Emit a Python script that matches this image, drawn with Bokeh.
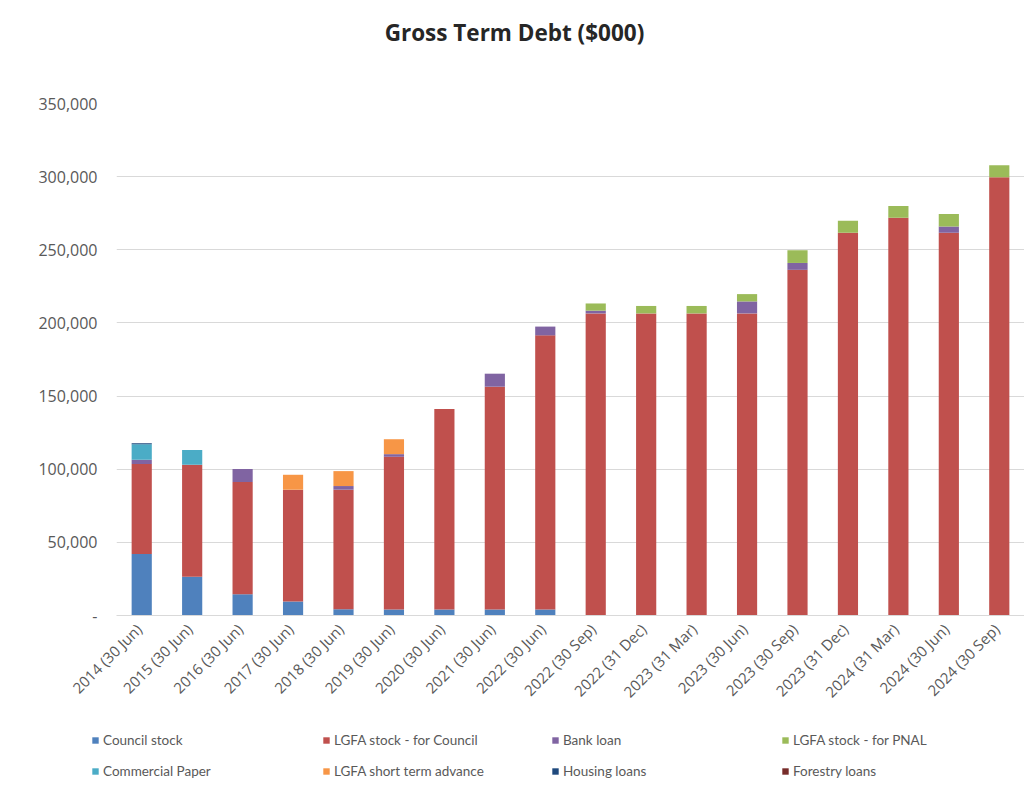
import math
from bokeh.plotting import figure
from bokeh.layouts import column, row
from bokeh.models import (FactorRange, Range1d, Legend, LegendItem, Label,
                          NumeralTickFormatter, FixedTicker, ColumnDataSource)
from bokeh.embed import file_html
from bokeh.resources import INLINE

categories = ["2014  (30 Jun)", "2015  (30 Jun)", "2016  (30 Jun)", "2017  (30 Jun)",
              "2018  (30 Jun)", "2019  (30 Jun)", "2020  (30 Jun)", "2021  (30 Jun)",
              "2022  (30 Jun)", "2022  (30 Sep)", "2022  (31 Dec)", "2023  (31 Mar)",
              "2023  (30 Jun)", "2023  (30 Sep)", "2023  (31 Dec)", "2024  (31 Mar)",
              "2024  (30 Jun)", "2024  (30 Sep)"]

council_stock = [42000, 26500, 14500, 9500, 4300, 4100, 4100, 4100, 4100,
                 0, 0, 0, 0, 0, 0, 0, 0, 0]
lgfa_council = [61500, 76500, 76700, 76500, 81700, 104400, 137100, 152300, 187400,
                206500, 206500, 206500, 206500, 236300, 261700, 271900, 261700, 299600]
bank_loan = [2900, 0, 8900, 0, 2500, 1800, 0, 8900, 6000,
             1900, 0, 0, 8200, 4700, 0, 0, 4300, 0]
lgfa_pnal = [0, 0, 0, 0, 0, 0, 0, 0, 0,
             4900, 5100, 5100, 5000, 8700, 8100, 8000, 8400, 8200]
commercial_paper = [10700, 10200, 0, 0, 0, 0, 0, 0, 0,
                    0, 0, 0, 0, 0, 0, 0, 0, 0]
lgfa_short_term = [0, 0, 0, 10200, 10200, 10200, 0, 0, 0,
                   0, 0, 0, 0, 0, 0, 0, 0, 0]
housing_loans = [700, 0, 0, 0, 0, 0, 0, 0, 0,
                 0, 0, 0, 0, 0, 0, 0, 0, 0]
forestry_loans = [0, 0, 0, 0, 0, 0, 0, 0, 0,
                  0, 0, 0, 0, 0, 0, 0, 0, 0]

series_names = ["Council stock", "LGFA stock - for Council", "Bank loan", "LGFA stock - for PNAL",
                "Commercial Paper", "LGFA short term advance", "Housing loans", "Forestry loans"]
series_keys = ["council", "lgfa_council", "bank", "pnal", "cp", "st_adv", "housing", "forestry"]
colors = ["#4F81BD", "#C0504D", "#8064A2", "#9BBB59", "#4BACC6", "#F79646", "#1F497D", "#772C2A"]
y_ticks = [0, 50000, 100000, 150000, 200000, 250000, 300000, 350000]

source = ColumnDataSource(dict(
    x=categories, council=council_stock, lgfa_council=lgfa_council, bank=bank_loan,
    pnal=lgfa_pnal, cp=commercial_paper, st_adv=lgfa_short_term,
    housing=housing_loans, forestry=forestry_loans))

TITLE_H = 60
LEGEND_H = 80

# ---- title strip ----
ts = figure(width=1024, height=TITLE_H, output_backend="svg", toolbar_location=None,
            x_range=Range1d(0, 1), y_range=Range1d(0, 1), x_axis_type=None, y_axis_type=None,
            min_border_left=116, min_border_right=0, min_border_top=0, min_border_bottom=0)
ts.grid.visible = False
ts.outline_line_color = None
ts.border_fill_color = "white"
ts.add_layout(Label(x=398, y=28, x_units="screen", y_units="screen",
                    text="Gross Term Debt ($000)", text_align="center", text_baseline="middle",
                    text_font="Open Sans", text_font_style="bold",
                    text_font_size="22.5px", text_color="#262626"))

# ---- main chart ----
p = figure(x_range=FactorRange(*categories, range_padding=0), y_range=Range1d(0, 350000),
           width=1024, height=791 - TITLE_H - LEGEND_H, output_backend="svg",
           toolbar_location=None, min_border_left=116, min_border_right=0,
           min_border_top=103 - TITLE_H, min_border_bottom=94)
p.x_range.factor_padding = 0

renderers = p.vbar_stack(series_keys, x="x", width=0.4, fill_color=colors,
                         line_color=None, source=source)

p.outline_line_color = None
p.background_fill_color = "white"
p.border_fill_color = "white"

p.xgrid.grid_line_color = None
p.ygrid.grid_line_color = "#d9d9d9"
p.ygrid.grid_line_width = 1

p.yaxis.ticker = FixedTicker(ticks=y_ticks)
p.yaxis.formatter = NumeralTickFormatter(format="0,0")
p.yaxis.major_label_overrides = {0: "-"}
p.yaxis.axis_line_color = None
p.yaxis.major_tick_line_color = None
p.yaxis.minor_tick_line_color = None
p.yaxis.major_tick_out = 0
p.yaxis.major_label_standoff = 19
p.yaxis.major_label_text_font = "Open Sans"
p.yaxis.major_label_text_font_size = "16px"
p.yaxis.major_label_text_color = "#595959"

p.xaxis.axis_line_color = "#d9d9d9"
p.xaxis.major_tick_line_color = None
p.xaxis.minor_tick_line_color = None
p.xaxis.major_tick_out = 0
p.xaxis.major_label_orientation = math.pi / 4
p.xaxis.major_label_standoff = 8
p.xaxis.major_label_text_font = "Open Sans"
p.xaxis.major_label_text_font_size = "15px"
p.xaxis.major_label_text_color = "#595959"

# ---- legend strip (same data; zero-width stacks outside the visible range, used only as swatches) ----
lg = figure(width=1024, height=LEGEND_H, output_backend="svg", toolbar_location=None,
            x_range=FactorRange(*categories), y_range=Range1d(-1000, -500),
            x_axis_type=None, y_axis_type=None,
            min_border_left=0, min_border_right=0, min_border_top=0, min_border_bottom=0)
lg.grid.visible = False
lg.outline_line_color = None
lg.border_fill_color = "white"
swatches = lg.vbar_stack(series_keys, x="x", width=0, fill_color=colors,
                         line_color=None, source=source)

col_x = [91, 322, 551, 781]
for c in range(4):
    items = [LegendItem(label=series_names[c], renderers=[swatches[c]]),
             LegendItem(label=series_names[c + 4], renderers=[swatches[c + 4]])]
    leg = Legend(items=items, location=(col_x[c], 11), orientation="vertical",
                 glyph_width=8, glyph_height=8, label_height=19, spacing=12,
                 label_standoff=4, padding=0, margin=0,
                 border_line_color=None, background_fill_alpha=0,
                 label_text_font="Lato", label_text_font_size="13.5px",
                 label_text_color="#595959")
    lg.add_layout(leg)

layout = column(ts, p, row(lg), spacing=0)
open("out.html", "w").write(file_html(layout, INLINE))
